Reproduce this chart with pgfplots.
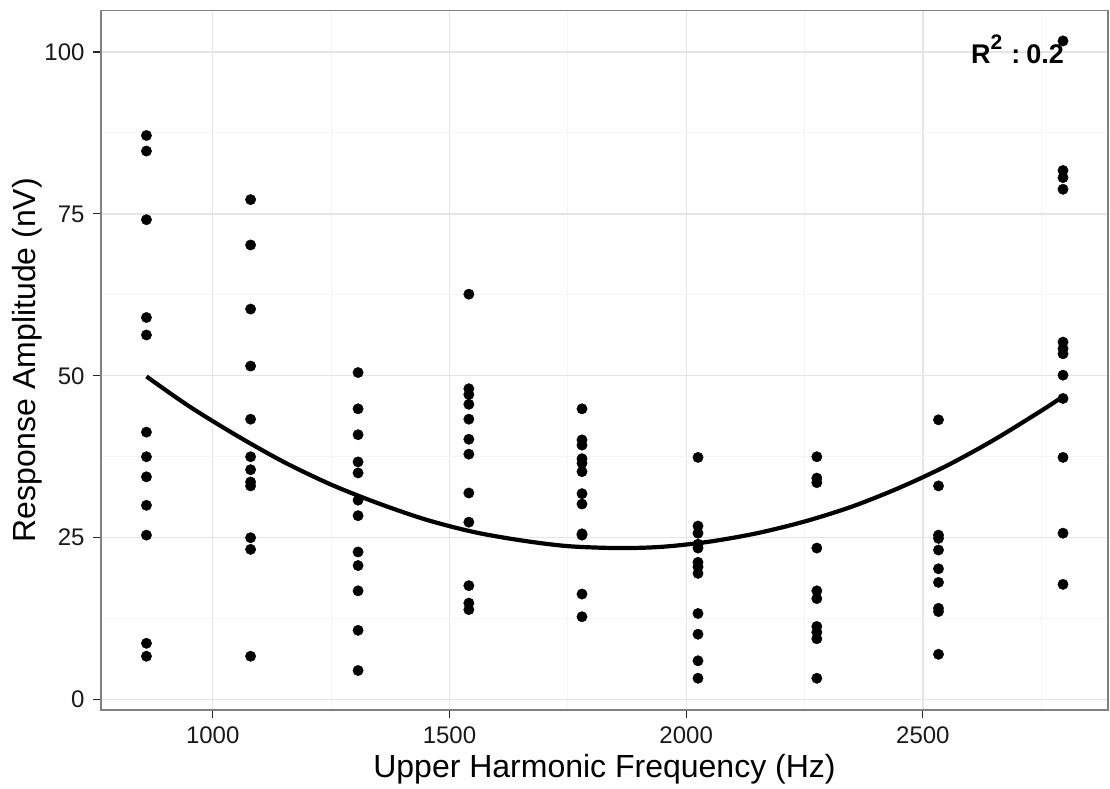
\documentclass[border=0pt]{standalone}
\usepackage{fontspec}
\setmainfont{Liberation Sans}
\usepackage{pgfplots}
\pgfplotsset{compat=1.18}
\definecolor{border}{RGB}{128,128,128}
\definecolor{gmajor}{RGB}{229,229,229}
\definecolor{gminor}{RGB}{245,245,245}
\begin{document}
\begin{tikzpicture}
\useasboundingbox (0,0) rectangle (1110bp,789bp);
\begin{axis}[
  at={(101bp,79bp)}, anchor=south west,
  width=1007bp, height=699.5bp, scale only axis,
  xmin=764, xmax=2891, ymin=-1.6, ymax=106.4,
  xtick={1000,1500,2000,2500},
  ytick={0,25,50,75,100},
  minor xtick={1250,1750,2250,2750},
  minor ytick={12.5,37.5,62.5,87.5},
  minor tick length=0pt,
  major tick length=8bp,
  tick align=outside,
  tick pos=left,
  major tick style={black!85, line width=1.2bp},
  xmajorgrids, ymajorgrids, xminorgrids, yminorgrids,
  major grid style={gmajor, line width=1.3bp},
  minor grid style={gminor, line width=1bp},
  axis line style={border, line width=1.6bp},
  /pgf/number format/assume math mode=true,
  /pgf/number format/1000 sep={},
  ticklabel style={font=\fontsize{24bp}{28bp}\selectfont, text=black!90},
  xticklabel style={yshift=-5bp},
  yticklabel style={xshift=-5bp},
  xlabel={Upper Harmonic Frequency (Hz)},
  ylabel={Response Amplitude (nV)},
  label style={font=\fontsize{32bp}{36bp}\selectfont, text=black},
  xlabel style={at={(axis description cs:0.5,-0.0968)}, anchor=base},
  ylabel style={at={(axis description cs:-0.0655,0.5)}, anchor=base},
  clip=false,
]
\addplot[only marks, mark=*, mark size=5.2bp, black] table {
x y
860 87.1
860 84.7
860 74.1
860 59.0
860 56.3
860 41.3
860 37.5
860 34.4
860 30.0
860 25.4
860 8.7
860 6.7
1080 77.2
1080 70.2
1080 60.3
1080 51.5
1080 43.3
1080 37.5
1080 35.5
1080 33.6
1080 33.0
1080 25.0
1080 23.2
1080 6.7
1307 50.5
1307 44.9
1307 40.9
1307 36.7
1307 35.0
1307 30.8
1307 28.4
1307 22.8
1307 20.7
1307 16.8
1307 10.7
1307 4.5
1541 62.6
1541 48.0
1541 47.1
1541 45.6
1541 43.3
1541 40.2
1541 37.9
1541 31.9
1541 27.4
1541 17.6
1541 14.9
1541 13.9
1780 44.9
1780 40.1
1780 39.3
1780 37.2
1780 36.5
1780 35.2
1780 31.8
1780 30.2
1780 25.6
1780 25.4
1780 16.3
1780 12.8
2025 37.4
2025 26.8
2025 25.7
2025 24.0
2025 23.4
2025 21.2
2025 20.5
2025 19.5
2025 13.3
2025 10.1
2025 6.0
2025 3.3
2276 37.5
2276 34.2
2276 33.5
2276 23.4
2276 16.8
2276 15.6
2276 11.3
2276 10.4
2276 9.4
2276 3.3
2533 43.2
2533 33.0
2533 25.4
2533 24.9
2533 23.1
2533 20.2
2533 18.1
2533 14.1
2533 13.6
2533 7.0
2796 101.7
2796 81.7
2796 80.6
2796 78.8
2796 55.2
2796 54.2
2796 53.4
2796 50.1
2796 46.5
2796 37.4
2796 25.7
2796 17.8
};
\addplot[black, line width=4.2bp, smooth, no marks] table {
x y
860 49.9
950 45.3
1050 40.8
1150 36.7
1250 33.2
1350 30.3
1450 27.8
1550 25.9
1650 24.6
1750 23.7
1858 23.4
1950 23.6
2050 24.4
2150 25.7
2250 27.5
2350 29.8
2450 32.7
2550 36.1
2650 40.1
2750 44.6
2796 46.8
};
\node[font=\fontsize{27bp}{30bp}\selectfont\bfseries, anchor=center] at (axis cs:2700,100.4)
  {R\raisebox{14bp}{\fontsize{21bp}{23bp}\selectfont\bfseries 2}\hspace{9bp}:\hspace{6bp}0.2};
\end{axis}
\end{tikzpicture}
\end{document}
